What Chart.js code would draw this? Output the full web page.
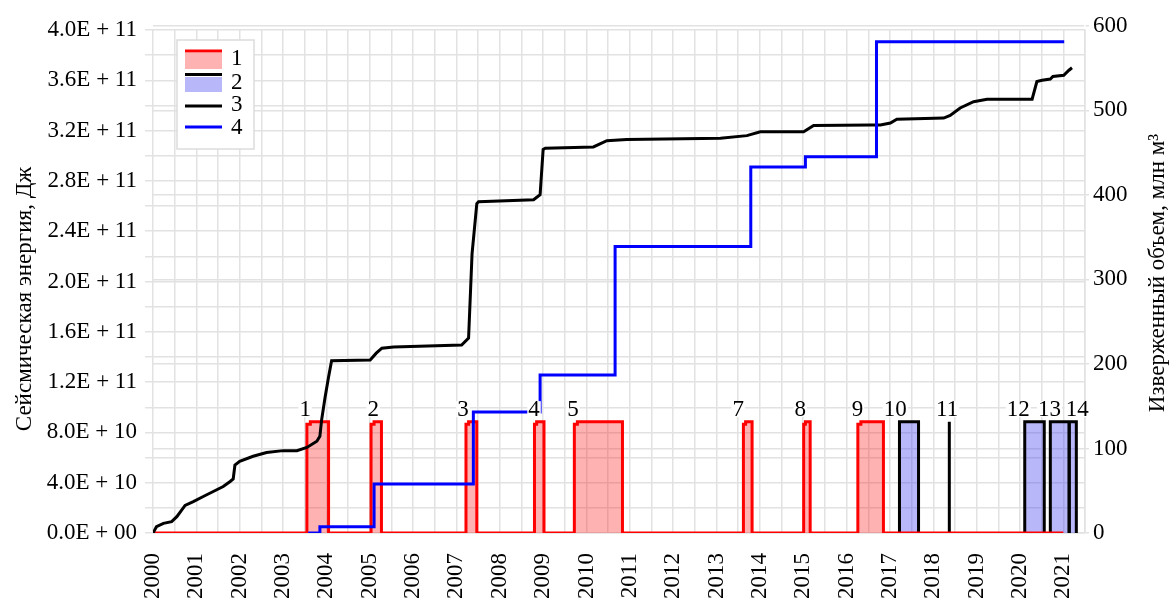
<!DOCTYPE html>
<html lang="ru">
<head>
<meta charset="utf-8">
<title>Сейсмическая энергия и изверженный объем</title>
<script src="https://cdn.jsdelivr.net/npm/chart.js@4.4.1/dist/chart.umd.min.js"></script>
<style>
	html, body { margin: 0; padding: 0; background: #fff; }
	#wrap { position: relative; width: 1170px; height: 599px; }
</style>
</head>
<body>
<div id="wrap"><canvas id="chart"></canvas></div>
<script>
// 1 - effusive eruption periods (red), 2 - explosive periods (blue fill)
const redSpan = [2000.0, 2021.0];
const redStart = [2003.55, 2005.03, 2007.22, 2008.80, 2009.72, 2013.62, 2015.01, 2016.26];
const redStep = [2003.63, 2005.10, 2007.28, 2008.85, 2009.79, 2013.67, 2015.05, 2016.33];
const redEnd = [2004.05, 2005.27, 2007.47, 2009.02, 2010.83, 2013.82, 2015.16, 2016.85];
const blueStart = [2017.22, 2018.37, 2020.11, 2020.70, 2021.14];
const blueEnd = [2017.66, 2018.37, 2020.56, 2021.13, 2021.30];
const eruptionHeight = 0.885; // in 1E+11 J units
const eruptionLowHeight = 0.865;

// eruption numbers
const eruptionLabels = ['1', '2', '3', '4', '5', '7', '8', '9', '10', '11', '12', '13', '14'];
const eruptionLabelYears = [2003.51, 2005.08, 2007.15, 2008.79, 2009.69, 2013.50, 2014.93, 2016.25, 2017.12, 2018.32, 2019.96, 2020.68, 2021.32];
const eruptionLabelLevel = 0.985;

// 3 - cumulative seismic energy, 1E+11 J
const energyYears = [2000.0, 2000.08, 2000.24, 2000.43, 2000.55, 2000.74, 2000.93, 2001.16, 2001.39, 2001.62, 2001.78, 2001.85, 2001.89, 2002.0, 2002.31, 2002.62, 2003.0, 2003.32, 2003.55, 2003.78, 2003.85, 2003.89, 2003.97, 2004.05, 2004.12, 2005.01, 2005.15, 2005.28, 2005.55, 2007.12, 2007.28, 2007.36, 2007.47, 2007.51, 2008.78, 2008.93, 2009.0, 2009.05, 2010.16, 2010.47, 2010.93, 2013.09, 2013.70, 2014.01, 2015.01, 2015.24, 2016.55, 2016.78, 2017.01, 2017.16, 2018.24, 2018.39, 2018.62, 2018.93, 2019.24, 2020.28, 2020.39, 2020.51, 2020.70, 2020.76, 2021.01, 2021.13, 2021.20];
const energyValues = [0, 0.05, 0.077, 0.09, 0.13, 0.22, 0.25, 0.29, 0.33, 0.37, 0.41, 0.43, 0.54, 0.57, 0.61, 0.64, 0.655, 0.655, 0.68, 0.73, 0.77, 0.9, 1.08, 1.24, 1.37, 1.376, 1.43, 1.47, 1.48, 1.495, 1.55, 2.22, 2.62, 2.635, 2.65, 2.69, 3.05, 3.06, 3.07, 3.12, 3.13, 3.14, 3.16, 3.19, 3.19, 3.24, 3.245, 3.245, 3.26, 3.29, 3.30, 3.32, 3.38, 3.43, 3.45, 3.45, 3.59, 3.60, 3.61, 3.63, 3.64, 3.68, 3.70];

// 4 - erupted volume, mln m3 (value after each step)
const volumeYears = [2003.58, 2003.85, 2005.10, 2007.39, 2008.93, 2010.66, 2013.79, 2015.05, 2016.69, 2021.02];
const volumeValues = [0, 7.5, 58, 143, 187, 339, 433, 445, 581, 581];

// axis ticks
const rightTicks = [0, 100, 200, 300, 400, 500, 600];

const FONT = '"Liberation Serif", "Times New Roman", serif';
const FONT_SIZE = 23;
const GRID = '#e2e2e2';

Chart.defaults.font.family = FONT;
Chart.defaults.font.size = FONT_SIZE;
Chart.defaults.color = '#000';

function redPath() {
	const pts = [{ x: redSpan[0], y: 0 }];
	redStart.forEach((s, i) => {
		pts.push(
			{ x: s, y: 0 }, { x: s, y: eruptionLowHeight },
			{ x: redStep[i], y: eruptionLowHeight }, { x: redStep[i], y: eruptionHeight },
			{ x: redEnd[i], y: eruptionHeight }, { x: redEnd[i], y: 0 }
		);
	});
	pts.push({ x: redSpan[1], y: 0 });
	return pts;
}

function bluePath() {
	const pts = [];
	blueStart.forEach((s, i) => {
		pts.push({ x: s, y: 0 }, { x: s, y: eruptionHeight }, { x: blueEnd[i], y: eruptionHeight }, { x: blueEnd[i], y: 0 });
		pts.push({ x: blueEnd[i], y: null });
	});
	return pts;
}

function sciLabel(v) {
	const [m, e] = (v * 1e11).toExponential(1).split('e');
	const exp = String(Math.abs(Number(e))).padStart(2, '0');
	return `${m}E ${Number(e) < 0 ? '-' : '+'} ${exp}`;
}

const labelsPlugin = {
	id: 'eruptionLabels',
	afterDatasetsDraw(chart) {
		const { ctx, scales } = chart;
		ctx.save();
		ctx.font = `${FONT_SIZE}px ${FONT}`;
		ctx.textAlign = 'center';
		ctx.textBaseline = 'middle';
		eruptionLabels.forEach((t, i) => {
			const x = scales.x.getPixelForValue(eruptionLabelYears[i]);
			const y = scales.y.getPixelForValue(eruptionLabelLevel);
			const w = ctx.measureText(t).width;
			ctx.fillStyle = '#fff';
			ctx.fillRect(x - w / 2 - 1, y - 8, w + 2, 16);
			ctx.fillStyle = '#000';
			ctx.fillText(t, x, y + 1);
		});
		ctx.restore();
	}
};

const legendPlugin = {
	id: 'boxLegend',
	afterDraw(chart) {
		const ctx = chart.ctx;
		ctx.save();
		ctx.fillStyle = '#fff';
		ctx.fillRect(177, 40, 77, 109);
		ctx.strokeStyle = '#dcdcdc';
		ctx.lineWidth = 1.5;
		ctx.strokeRect(177, 40, 77, 109);

		ctx.fillStyle = 'rgba(255,0,0,0.3)';
		ctx.fillRect(185, 53, 37, 16);
		ctx.fillStyle = 'rgba(50,50,240,0.35)';
		ctx.fillRect(185, 77, 37, 15);

		const lines = [[51, '#ff0000'], [74.5, '#000'], [106, '#000'], [127, '#0000ff']];
		ctx.lineWidth = 3;
		lines.forEach(([y, c]) => {
			ctx.strokeStyle = c;
			ctx.beginPath();
			ctx.moveTo(185, y);
			ctx.lineTo(222, y);
			ctx.stroke();
		});

		ctx.fillStyle = '#000';
		ctx.font = `${FONT_SIZE}px ${FONT}`;
		ctx.textBaseline = 'middle';
		[['1', 59], ['2', 83], ['3', 105], ['4', 128]].forEach(([t, y]) => ctx.fillText(t, 231, y));
		ctx.restore();
	}
};

const titlesPlugin = {
	id: 'axisTitles',
	afterDraw(chart) {
		const ctx = chart.ctx;
		const titles = [
			['Сейсмическая энергия, Дж', 25, 299],
			['Изверженный объем, млн м³', 1158, 273]
		];
		titles.forEach(([text, x, y]) => {
			ctx.save();
			ctx.font = `${FONT_SIZE}px ${FONT}`;
			ctx.fillStyle = '#000';
			ctx.textAlign = 'center';
			ctx.textBaseline = 'middle';
			ctx.translate(x, y);
			ctx.rotate(-Math.PI / 2);
			ctx.fillText(text, 0, 0);
			ctx.restore();
		});
	}
};

const lineBase = { pointRadius: 0, tension: 0, borderJoinStyle: 'miter', spanGaps: false };

new Chart(document.getElementById('chart'), {
	type: 'line',
	data: {
		datasets: [
			{
				...lineBase,
				label: '4',
				data: volumeYears.map((x, i) => ({ x, y: volumeValues[i] })),
				yAxisID: 'y1',
				stepped: true,
				borderColor: '#0000ff',
				borderWidth: 3,
				fill: false,
				order: 0
			},
			{
				...lineBase,
				label: '3',
				data: energyYears.map((x, i) => ({ x, y: energyValues[i] })),
				yAxisID: 'y',
				borderColor: '#000',
				borderWidth: 3,
				fill: false,
				order: 1
			},
			{
				...lineBase,
				label: '1',
				data: redPath(),
				yAxisID: 'y',
				borderColor: '#ff0000',
				backgroundColor: 'rgba(255,0,0,0.3)',
				borderWidth: 3,
				fill: 'origin',
				order: 2
			},
			{
				...lineBase,
				label: '2',
				data: bluePath(),
				yAxisID: 'y',
				borderColor: '#000',
				backgroundColor: 'rgba(50,50,240,0.35)',
				borderWidth: 3,
				fill: 'origin',
				order: 3
			}
		]
	},
	options: {
		responsive: true,
		maintainAspectRatio: false,
		animation: false,
		layout: { padding: { top: 30, left: 0, right: 0, bottom: 0 } },
		plugins: {
			legend: { display: false },
			tooltip: { enabled: false }
		},
		scales: {
			x: {
				type: 'linear',
				min: 2000,
				max: 2021.5,
				afterFit: (s) => { s.height = 66; },
				border: { display: false },
				grid: { color: GRID, lineWidth: 1.5, drawTicks: false },
				ticks: {
					stepSize: 0.5,
					autoSkip: false,
					minRotation: 90,
					maxRotation: 90,
					padding: 20,
					callback: (v) => (Math.abs(v - Math.round(v)) < 1e-6 ? String(Math.round(v)) : '')
				}
			},
			y: {
				position: 'left',
				min: 0,
				max: 4,
				afterFit: (s) => { s.width = 153; },
				border: { display: false },
				grid: { color: GRID, lineWidth: 1.5, tickLength: 8 },
				ticks: {
					stepSize: 0.2,
					padding: 8,
					autoSkip: false,
					callback: (v, i) => (i % 2 === 0 ? sciLabel(v) : '')
				}
			},
			y1: {
				position: 'right',
				min: 0,
				max: 595,
				afterFit: (s) => { s.width = 85; },
				afterBuildTicks: (s) => { s.ticks = rightTicks.map((v) => ({ value: v })); },
				border: { display: true, color: GRID, width: 1.5 },
				grid: { color: GRID, lineWidth: 1.5, tickLength: 4 },
				ticks: {
					padding: 4,
					autoSkip: false,
					callback: (v) => String(v)
				}
			}
		}
	},
	plugins: [labelsPlugin, legendPlugin, titlesPlugin]
});
</script>
</body>
</html>
